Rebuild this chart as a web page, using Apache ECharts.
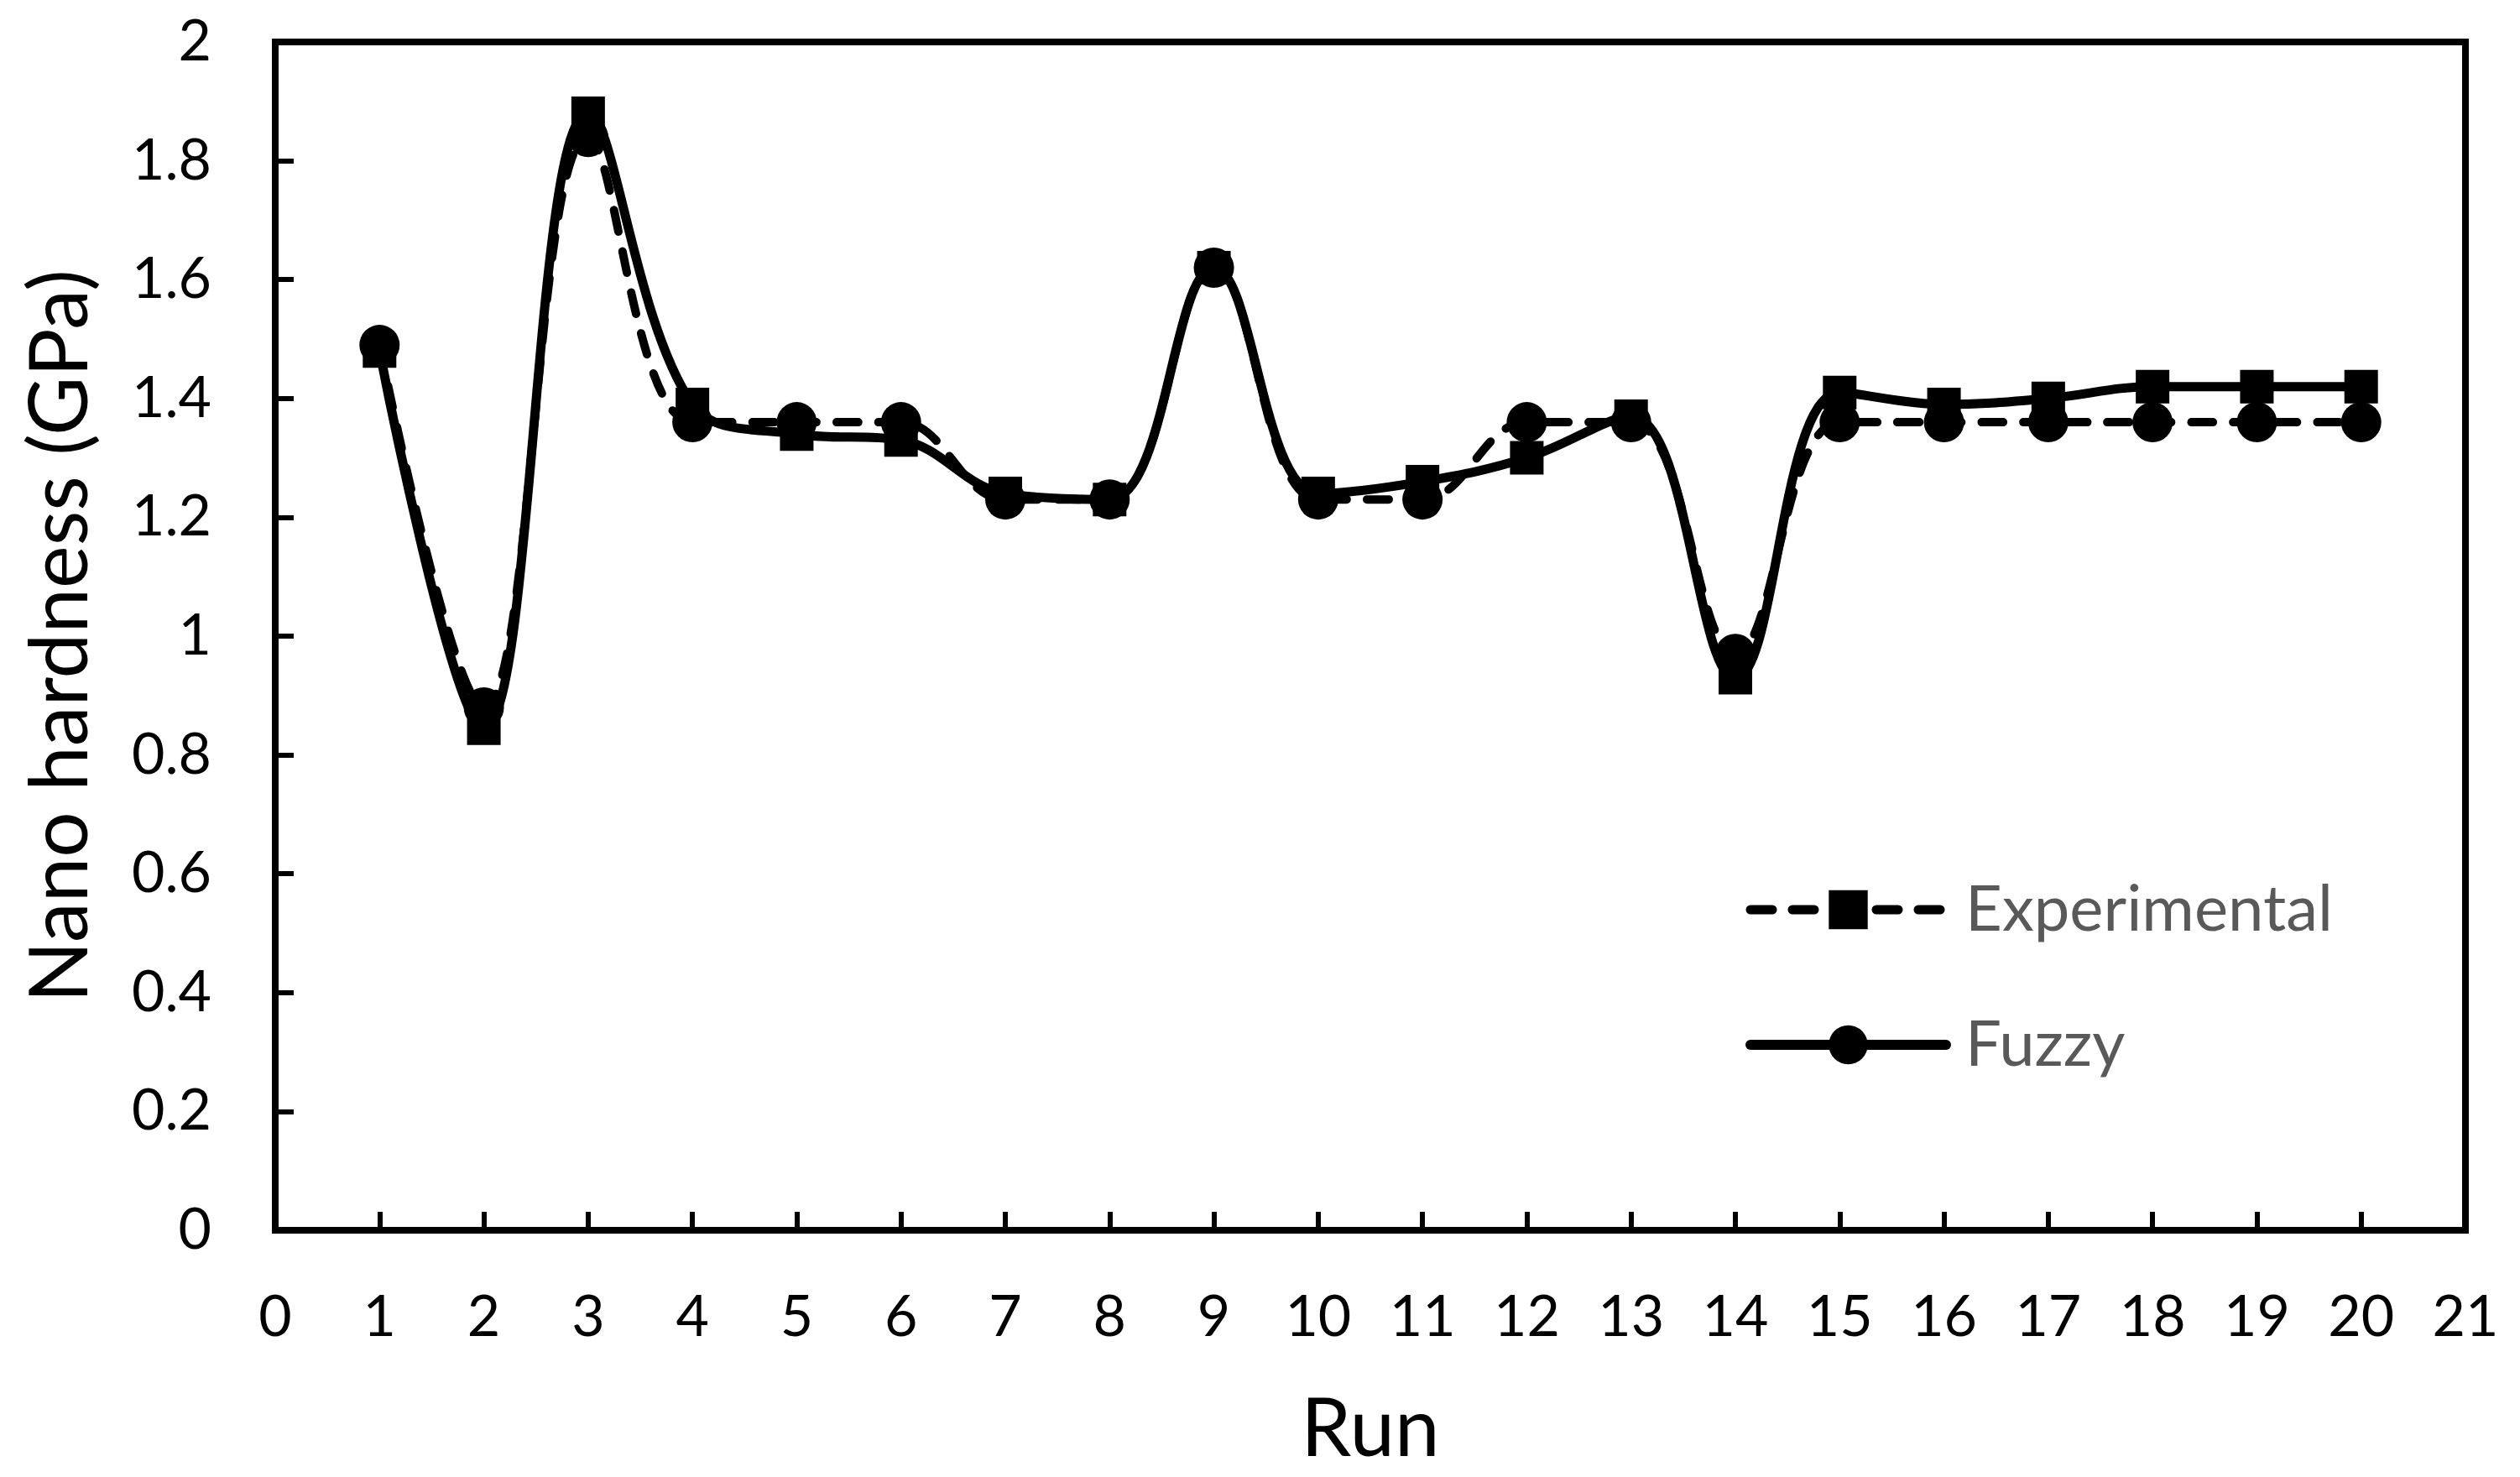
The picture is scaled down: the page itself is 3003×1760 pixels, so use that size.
<!DOCTYPE html>
<html>
<head>
<meta charset="utf-8">
<script src="https://cdn.jsdelivr.net/npm/echarts@6/dist/echarts.min.js"></script>
<style>
  html, body { margin: 0; padding: 0; background: #fff; }
  #chart { width: 3003px; height: 1760px; }
</style>
</head>
<body>
<div id="chart"></div>
<script>
// runs on the x axis
const runs = [1, 2, 3, 4, 5, 6, 7, 8, 9, 10, 11, 12, 13, 14, 15, 16, 17, 18, 19, 20];
// nano hardness (GPa)
const experimental = [1.48, 0.845, 1.88, 1.39, 1.34, 1.33, 1.24, 1.23, 1.62, 1.24,
  1.26, 1.30, 1.37, 0.93, 1.41, 1.39, 1.40, 1.42, 1.42, 1.42];
const fuzzy = [1.49, 0.88, 1.84, 1.36, 1.36, 1.36, 1.23, 1.23, 1.62, 1.23,
  1.23, 1.36, 1.36, 0.97, 1.36, 1.36, 1.36, 1.36, 1.36, 1.36];

const font = "Lato";
const dash = [26, 24];

const chart = echarts.init(document.getElementById("chart"));
chart.setOption({
  animation: false,
  backgroundColor: "#fff",
  grid: {
    left: 328,
    right: 65,
    top: 50,
    bottom: 294,
    show: true,
    borderColor: "#000",
    borderWidth: 8,
    outerBoundsMode: "none",
  },
  legend: {
    orient: "vertical",
    left: 2080,
    top: 1046,
    padding: 0,
    itemWidth: 233,
    itemHeight: 58,
    itemGap: 85,
    textStyle: {
      fontFamily: font,
      fontSize: 76,
      color: "#595959",
      lineHeight: 72,
      padding: [0, 0, 0, 18],
    },
    data: [
      { name: "Experimental", lineStyle: { type: dash, width: 11, cap: "round" } },
      { name: "Fuzzy", lineStyle: { type: "solid", width: 12 } },
    ],
  },
  xAxis: {
    type: "value",
    min: 0,
    max: 21,
    interval: 1,
    name: "Run",
    nameLocation: "middle",
    nameGap: 190,
    nameTextStyle: { fontFamily: font, fontSize: 96, color: "#000" },
    axisLine: { show: true, lineStyle: { color: "#000", width: 8 } },
    axisTick: { show: true, inside: true, length: 22, lineStyle: { color: "#000", width: 6 } },
    axisLabel: { fontFamily: font, fontSize: 68, color: "#000", margin: 70 },
    splitLine: { show: false },
  },
  yAxis: {
    type: "value",
    min: 0,
    max: 2,
    interval: 0.2,
    name: "Nano hardness (GPa)",
    nameLocation: "middle",
    nameGap: 207,
    nameTextStyle: { fontFamily: font, fontSize: 96, color: "#000" },
    axisLine: { show: true, lineStyle: { color: "#000", width: 8 } },
    axisTick: { show: true, inside: true, length: 22, lineStyle: { color: "#000", width: 6 } },
    axisLabel: { fontFamily: font, fontSize: 68, color: "#000", margin: 76 },
    splitLine: { show: false },
  },
  series: [
    {
      name: "Experimental",
      type: "line",
      data: runs.map((r, i) => [r, experimental[i]]),
      smooth: 0.38,
      symbol: "rect",
      symbolSize: 40,
      color: "#000",
      itemStyle: { color: "#000" },
      lineStyle: { color: "#000", width: 11, type: "solid" },
    },
    {
      name: "Fuzzy",
      type: "line",
      data: runs.map((r, i) => [r, fuzzy[i]]),
      smooth: 0.38,
      symbol: "circle",
      symbolSize: 48,
      color: "#000",
      itemStyle: { color: "#000" },
      lineStyle: { color: "#000", width: 10, type: dash, cap: "round" },
    },
  ],
});
</script>
</body>
</html>
